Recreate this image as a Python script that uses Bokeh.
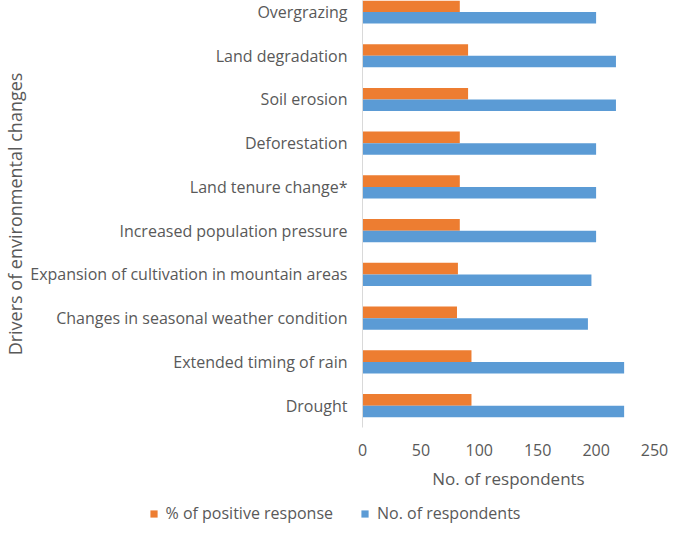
from bokeh.plotting import figure
from bokeh.layouts import column
from bokeh.models import Range1d, FixedTicker, Legend, LegendItem, ColumnDataSource
from bokeh.transform import dodge
from bokeh.embed import file_html
from bokeh.resources import INLINE

drivers = [
    "Overgrazing",
    "Land degradation",
    "Soil erosion",
    "Deforestation",
    "Land tenure change*",
    "Increased population pressure",
    "Expansion of cultivation in mountain areas",
    "Changes in seasonal weather condition",
    "Extended timing of rain",
    "Drought",
]
respondents = [200, 217, 217, 200, 200, 200, 196, 193, 224, 224]
positive_pct = [83.3, 90.4, 90.4, 83.3, 83.3, 83.3, 81.7, 80.9, 93.3, 93.3]
x_ticks = [0, 50, 100, 150, 200, 250]
series_names = ["% of positive response", "No. of respondents"]

ORANGE = "#ED7D31"
BLUE = "#5B9BD5"
TEXT = "#595959"
FONT = "Open Sans"

n = len(drivers)
ypos = [n - 1 - i for i in range(n)]
bar_h = 0.265

src = ColumnDataSource(dict(y=ypos, pct=positive_pct, resp=respondents, name=drivers))

p = figure(width=669, height=501, x_range=Range1d(0, 250), y_range=Range1d(-0.5, 9.263),
           output_backend="svg", toolbar_location=None,
           min_border_left=353, min_border_right=15, min_border_top=0, min_border_bottom=74)

r1 = p.hbar(y=dodge("y", bar_h / 2), left=0, right="pct", height=bar_h, source=src,
            fill_color=ORANGE, line_color=None)
r2 = p.hbar(y=dodge("y", -bar_h / 2), left=0, right="resp", height=bar_h, source=src,
            fill_color=BLUE, line_color=None)

p.xgrid.visible = False
p.ygrid.visible = False
p.outline_line_color = None

xa = p.xaxis[0]
xa.ticker = FixedTicker(ticks=x_ticks)
xa.axis_line_color = None
xa.major_tick_line_color = None
xa.minor_tick_line_color = None
xa.major_tick_out = 0
xa.major_tick_in = 0
xa.major_label_standoff = 16
xa.major_label_text_font = FONT
xa.major_label_text_font_size = "16px"
xa.major_label_text_color = TEXT
xa.axis_label = "No. of respondents"
xa.axis_label_text_font = FONT
xa.axis_label_text_font_size = "17px"
xa.axis_label_text_font_style = "normal"
xa.axis_label_text_color = TEXT
xa.axis_label_standoff = 8

ya = p.yaxis[0]
ya.ticker = FixedTicker(ticks=ypos)
ya.major_label_overrides = {y: name for y, name in zip(ypos, drivers)}
ya.axis_line_color = "#D9D9D9"
ya.major_tick_line_color = None
ya.minor_tick_line_color = None
ya.major_tick_out = 0
ya.major_tick_in = 0
ya.major_label_standoff = 15
ya.major_label_text_font = FONT
ya.major_label_text_font_size = "16px"
ya.major_label_text_color = TEXT
ya.axis_label = "Drivers of environmental changes"
ya.axis_label_text_font = FONT
ya.axis_label_text_font_size = "18px"
ya.axis_label_text_font_style = "normal"
ya.axis_label_text_color = TEXT
ya.axis_label_text_line_height = 1.0
ya.axis_label_standoff = 0

# legend strip below the chart; its bars fall outside its (empty) window
lf = figure(width=669, height=24, x_range=Range1d(-3, -2), y_range=Range1d(-3, -2),
            x_axis_type=None, y_axis_type=None,
            output_backend="svg", toolbar_location=None, min_border=0)
try:
    lf.frame_align = False
    p.frame_align = False
except Exception:
    pass
lf.grid.visible = False
lf.outline_line_color = None
lf.border_fill_color = "white"
lr1 = lf.hbar(y="y", left=0, right="pct", height=0, source=src,
              fill_color=ORANGE, line_color=None)
lr2 = lf.hbar(y="y", left=0, right="resp", height=0, source=src,
              fill_color=BLUE, line_color=None)
legend = Legend(items=[LegendItem(label=series_names[0], renderers=[lr1]),
                       LegendItem(label=series_names[1], renderers=[lr2])],
                orientation="horizontal", location="center",
                padding=0, margin=0, spacing=27, label_standoff=8,
                glyph_width=9, glyph_height=9,
                label_text_font=FONT, label_text_font_size="16px", label_text_color=TEXT,
                border_line_color=None, background_fill_alpha=0)
lf.add_layout(legend)

layout = column(p, lf, spacing=0)
open("out.html", "w").write(file_html(layout, INLINE))
